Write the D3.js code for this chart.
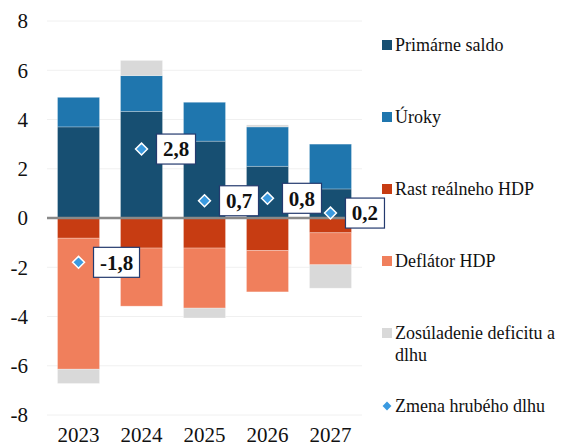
<!DOCTYPE html>
<html>
<head>
<meta charset="utf-8">
<script src="https://cdn.jsdelivr.net/npm/d3@7"></script>
<style>
  body { margin: 0; background: #fff; }
  svg { display: block; }
</style>
</head>
<body>
<div id="chart"></div>
<script>
// data
var years = ["2023", "2024", "2025", "2026", "2027"];
var primarneSaldo = [3.7, 4.33, 3.12, 2.1, 1.18];
var uroky = [1.2, 1.45, 1.58, 1.6, 1.82];
var rastHdp = [-0.82, -1.22, -1.22, -1.32, -0.6];
var deflator = [-5.32, -2.36, -2.44, -1.68, -1.3];
var zosuladenie = [-0.58, 0.62, -0.4, 0.08, -0.95];
var zmenaDlhu = [-1.8, 2.8, 0.7, 0.8, 0.2];
var yTicks = [-8, -6, -4, -2, 0, 2, 4, 6, 8];

var seriesNames = ["Primárne saldo", "Úroky", "Rast reálneho HDP", "Deflátor HDP", "Zosúladenie deficitu a dlhu"];
var seriesColors = ["#174f72", "#1f76ae", "#c73c12", "#f07f5c", "#d9d9d9"];
var seriesValues = [primarneSaldo, uroky, rastHdp, deflator, zosuladenie];
var markerName = "Zmena hrubého dlhu";
var markerColor = "#3a9ae0";

var width = 562, height = 448;
var margin = {left: 47, right: 200, top: 21, bottom: 33};
var serif = "'Liberation Serif'";

var svg = d3.select("#chart").append("svg")
    .attr("width", width)
    .attr("height", height);

var x = d3.scaleBand(years, [margin.left, width - margin.right])
    .paddingInner(0.333).paddingOuter(0.167);
var y = d3.scaleLinear([-8, 8], [height - margin.bottom, margin.top]);

// gridlines
svg.append("g").selectAll("line")
  .data(yTicks.filter(t => t !== 0))
  .join("line")
    .attr("x1", margin.left).attr("x2", width - margin.right)
    .attr("y1", d => y(d)).attr("y2", d => y(d))
    .attr("stroke", "#f0f0f0").attr("stroke-width", 1);

// stack positive up, negative down
var rects = [];
years.forEach((yr, i) => {
    var pos = 0, neg = 0;
    seriesValues.forEach((vals, s) => {
        var v = vals[i];
        var y0, y1;
        if (v >= 0) { y0 = pos; y1 = pos + v; pos = y1; }
        else { y0 = neg; y1 = neg + v; neg = y1; }
        rects.push({year: yr, y0: y0, y1: y1, color: seriesColors[s]});
    });
});

svg.append("g").selectAll("rect")
  .data(rects)
  .join("rect")
    .attr("x", d => x(d.year))
    .attr("width", x.bandwidth())
    .attr("y", d => y(Math.max(d.y0, d.y1)))
    .attr("height", d => Math.abs(y(d.y0) - y(d.y1)))
    .attr("fill", d => d.color)
    .attr("stroke", "rgba(255,255,255,0.35)")
    .attr("stroke-width", 0.75);

// zero line
svg.append("line")
    .attr("x1", margin.left).attr("x2", width - margin.right)
    .attr("y1", y(0)).attr("y2", y(0))
    .attr("stroke", "#898989").attr("stroke-width", 2.5);

// y axis labels
svg.append("g").selectAll("text")
  .data(yTicks)
  .join("text")
    .attr("x", 28)
    .attr("y", d => y(d))
    .attr("dy", "0.35em")
    .attr("text-anchor", "end")
    .style("font-family", serif)
    .style("font-size", "21px")
    .attr("fill", "#111")
    .text(d => d);

// x axis labels
svg.append("g").selectAll("text")
  .data(years)
  .join("text")
    .attr("x", d => x(d) + x.bandwidth() / 2)
    .attr("y", 435)
    .attr("dy", "0.35em")
    .attr("text-anchor", "middle")
    .style("font-family", serif)
    .style("font-size", "21px")
    .attr("fill", "#111")
    .text(d => d);

// debt change markers
var diamond = d3.symbol().type(d3.symbolDiamond2).size(90);
svg.append("g").selectAll("path")
  .data(zmenaDlhu)
  .join("path")
    .attr("d", diamond)
    .attr("transform", (d, i) => "translate(" + (x(years[i]) + x.bandwidth() / 2) + "," + y(d) + ")")
    .attr("fill", markerColor)
    .attr("stroke", "#fff")
    .attr("stroke-width", 1.5);

// value labels in boxes
var fmt = d => d.toFixed(1).replace(".", ",");
var lab = svg.append("g").selectAll("g")
  .data(zmenaDlhu)
  .join("g")
    .attr("transform", (d, i) => "translate(" + (x(years[i]) + x.bandwidth() / 2 + 15) + "," + y(d) + ")");
lab.append("rect")
    .attr("x", 0).attr("y", -15)
    .attr("width", d => d < 0 ? 46 : 39)
    .attr("height", 30)
    .attr("fill", "#fff")
    .attr("stroke", "#243a6e")
    .attr("stroke-width", 1.2);
lab.append("text")
    .attr("x", d => (d < 0 ? 46 : 39) / 2)
    .attr("y", 0)
    .attr("dy", "0.35em")
    .attr("text-anchor", "middle")
    .style("font-family", serif)
    .style("font-weight", "bold")
    .style("font-size", "21px")
    .attr("fill", "#111")
    .text(fmt);

// legend
var legendRows = [45, 117, 189, 261, 333];
var leg = svg.append("g");
seriesNames.forEach((name, s) => {
    leg.append("rect")
        .attr("x", 382).attr("y", legendRows[s] - 5)
        .attr("width", 10).attr("height", 10)
        .attr("fill", seriesColors[s]);
});
leg.selectAll("text.lab")
  .data(seriesNames)
  .join("text")
    .attr("class", "lab")
    .attr("x", 395)
    .attr("y", (d, i) => legendRows[i])
    .style("font-family", serif)
    .style("font-size", "18px")
    .attr("fill", "#111")
    .each(function(d) {
        var parts = d === "Zosúladenie deficitu a dlhu" ? ["Zosúladenie deficitu a", "dlhu"] : [d];
        var t = d3.select(this);
        parts.forEach((p, k) => {
            t.append("tspan").attr("x", 395).attr("dy", k === 0 ? "0.35em" : "1.2em").text(p);
        });
    });
leg.append("path")
    .attr("d", d3.symbol().type(d3.symbolDiamond2).size(50))
    .attr("transform", "translate(387,406)")
    .attr("fill", markerColor);
leg.append("text")
    .attr("x", 395).attr("y", 406)
    .attr("dy", "0.35em")
    .style("font-family", serif)
    .style("font-size", "18px")
    .attr("fill", "#111")
    .text(markerName);
</script>
</body>
</html>
